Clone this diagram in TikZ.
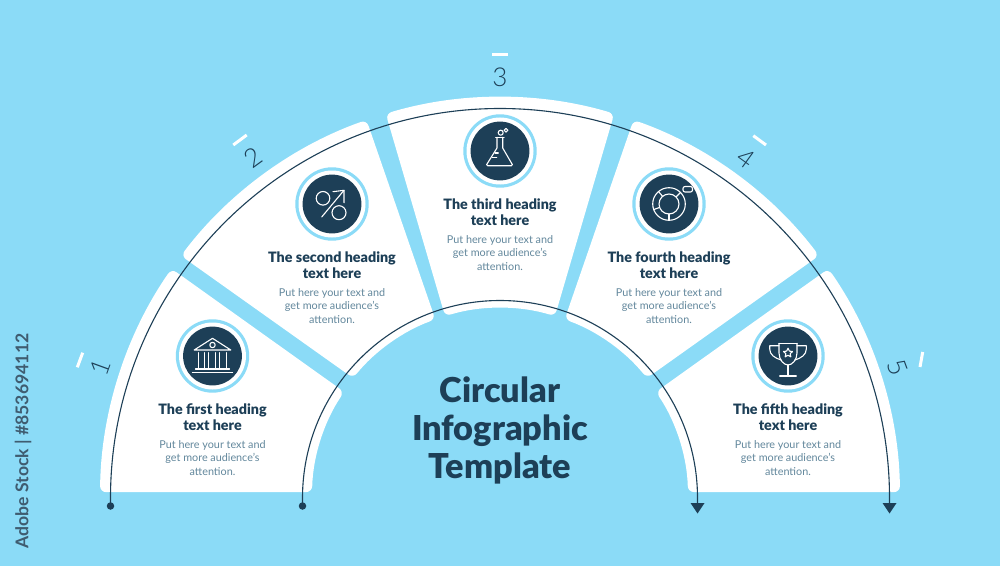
\documentclass[tikz,border=0pt]{standalone}
\usepackage{fontspec}
\usetikzlibrary{calc}
\setmainfont{Lato}
\newfontfamily\thinfont{Lato Light}
\newfontfamily\blackfont{Lato Black}
\definecolor{bgblue}{RGB}{139,219,247}
\definecolor{navy}{RGB}{29,63,87}
\definecolor{bodyc}{RGB}{98,135,156}
\tikzset{
  seg/.style={fill=white,rounded corners=6pt},
  flow/.style={draw=navy,line width=1.1pt},
  dotn/.style={circle,fill=navy,inner sep=0pt,minimum size=7.5pt},
  head/.style={font=\blackfont\fontsize{14.3}{16}\selectfont,text=navy,align=center,inner sep=0pt},
  bodyt/.style={font=\fontsize{10.8}{13.4}\selectfont,text=bodyc,align=center,inner sep=0pt},
  numb/.style={font=\thinfont\fontsize{26}{26}\selectfont,text=navy,inner sep=0pt},
  tick/.style={draw=white,line width=3pt},
  ico/.style={draw=white,line width=1.1pt,line join=round,line cap=round},
  ringo/.style={circle,fill=bgblue,minimum size=73.4pt,inner sep=0pt},
  ringw/.style={circle,fill=white,minimum size=67pt,inner sep=0pt},
  ringd/.style={circle,fill=navy,minimum size=58.8pt,inner sep=0pt}
}
\newcommand{\badge}[2]{%
  \node[ringo] (#1o) at (#2) {};
  \node[ringw] at (#2) {};
  \node[ringd] (#1) at (#2) {};}
\begin{document}
\begin{tikzpicture}[x=1pt,y=1pt]
\fill[bgblue] (0,0) rectangle (1000,566);
\useasboundingbox (0,0) rectangle (1000,566);
\coordinate (c) at (500,69);
% segments
\fill[seg] ($(c)+(179.3:400)$) arc[start angle=179.3,end angle=145.2,radius=400] -- ($(c)+(146:188)$) arc[start angle=146,end angle=178.5,radius=188] -- cycle;
\fill[seg] ($(c)+(142.9:400)$) arc[start angle=142.9,end angle=109.5,radius=400] -- ($(c)+(110:189)$) arc[start angle=110,end angle=141,radius=189] -- cycle;
\fill[seg] ($(c)+(106.6:400)$) arc[start angle=106.6,end angle=73.4,radius=400] -- ($(c)+(73.1:189)$) arc[start angle=73.1,end angle=106.9,radius=189] -- cycle;
\fill[seg] ($(c)+(70.5:400)$) arc[start angle=70.5,end angle=37.1,radius=400] -- ($(c)+(39:189)$) arc[start angle=39,end angle=70,radius=189] -- cycle;
\fill[seg] ($(c)+(34.8:400)$) arc[start angle=34.8,end angle=0.7,radius=400] -- ($(c)+(1.5:188)$) arc[start angle=1.5,end angle=34,radius=188] -- cycle;
% connectors
\node[dotn] (d1) at (110.5,60) {};
\node[dotn] (d2) at (302.5,60) {};
\coordinate (e1) at (889.5,62);
\coordinate (e2) at (697.5,62);
\draw[flow] (d1.center) -- (110.5,68) arc[start angle=180,end angle=0,radius=389.5] -- (e1);
\draw[flow] (d2.center) -- (302.5,68) arc[start angle=180,end angle=0,radius=197.5] -- (e2);
\fill[navy] (e1)++(-7,1) -- ++(14,0) -- ++(-7,-10.5) -- cycle;
\fill[navy] (e2)++(-7,1) -- ++(14,0) -- ++(-7,-10.5) -- cycle;
% ticks
\draw[tick] (82.7,213.3) -- (77.3,198.7);
\draw[tick] (246.7,431) -- (233.3,421);
\draw[tick] (492,511) -- (508,511);
\draw[tick] (753.3,430.3) -- (766,421);
\draw[tick] (922.7,214) -- (920,199);
% numbers
\node[numb,rotate=70] (n1) at (100,199) {1};
\node[numb,rotate=36] (n2) at (253,408) {2};
\node[numb] (n3) at (500,489) {3};
\node[numb,rotate=-36] (n4) at (746,408) {4};
\node[numb,rotate=-70] (n5) at (898,199) {5};
% badges
\badge{b1}{212.5,210}
\badge{b2}{332,362}
\badge{b3}{500,415}
\badge{b4}{669,362}
\badge{b5}{788,210}
% icon 1 bank
\begin{scope}[shift={(b1)},ico]
\draw (-18.3,6) -- (0,17.7) -- (18.3,6) -- cycle;
\draw (0,11) circle (2.7);
\foreach \a/\b in {-14.3/-7.7,-3.7/3,7.3/14}{\draw (\a,3.3) -- (\a,-13) (\b,3.3) -- (\b,-13);}
\draw (-17,-13) -- (17,-13);
\draw[line width=1.4pt] (-20,-16.3) -- (20,-16.3);
\end{scope}
% icon 2 percent
\begin{scope}[shift={(b2)},ico]
\draw (-9,5.7) circle (6.8);
\draw (7,-8.7) circle (7);
\draw (-10.3,-13) -- (12,13.7);
\draw (1,12.3) -- (12,13.7) -- (12,1.3);
\end{scope}
% icon 3 flask
\begin{scope}[shift={(b3)},ico]
\draw (-4.3,13.7) -- (4,13.7);
\draw (-3,13.7) -- (-3,3) -- (-13.3,-13.5) -- (-12.5,-14.7) -- (11.5,-14.7) -- (12.3,-13.5) -- (2.7,3) -- (2.7,13.7);
\draw (0.7,18.3) circle (2.5);
\draw (6,20.7) circle (1.9);
\draw (-5,-2) -- (-1.7,-2);
\draw (-7.7,-6.3) -- (-3.3,-6.3);
\end{scope}
% icon 4 donut
\begin{scope}[shift={(b4)},ico]
\draw (0,0) circle (16.3);
\draw (0,0) circle (10);
\draw (0,-10) -- (0,-16.3);
\draw (-160:10) -- (-160:16.3);
\draw (130:10) -- (130:16.3);
\draw (45:10) -- (45:16.3);
\draw[rounded corners=2pt] (14,12) rectangle (23.5,17.5);
\end{scope}
% icon 5 trophy
\begin{scope}[shift={(b5)},ico]
\draw (-9,12.7) -- (9,12.7);
\draw (-9,12.7) -- (-9,3) .. controls (-9,-4) and (-4,-9) .. (0,-9) .. controls (4,-9) and (9,-4) .. (9,3) -- (9,12.7);
\draw (-9,10.3) -- (-18.3,10.3) -- (-18.3,7) .. controls (-18.3,1) and (-13,-2) .. (-7,-4);
\draw (9,10.3) -- (18.3,10.3) -- (18.3,7) .. controls (18.3,1) and (13,-2) .. (7,-4);
\draw (0,-9) -- (0,-20);
\draw (-8.3,-20) -- (8.3,-20);
\draw (0,7.8) -- ++(1.4,-2.9) -- ++(3.1,-0.4) -- ++(-2.3,-2.2) -- ++(0.6,-3.1) -- ++(-2.8,1.5) -- ++(-2.8,-1.5) -- ++(0.6,3.1) -- ++(-2.3,2.2) -- ++(3.1,0.4) -- cycle;
\end{scope}
% text
\node[head] (h1) at (212.5,149) {The first heading\\text here};
\node[bodyt] (t1) at (212.5,108) {Put here your text and\\get more audience's\\attention.};
\node[head] (h2) at (332,301) {The second heading\\text here};
\node[bodyt] (t2) at (332,260) {Put here your text and\\get more audience's\\attention.};
\node[head] (h3) at (500,354) {The third heading\\text here};
\node[bodyt] (t3) at (500,313) {Put here your text and\\get more audience's\\attention.};
\node[head] (h4) at (669,301) {The fourth heading\\text here};
\node[bodyt] (t4) at (669,260) {Put here your text and\\get more audience's\\attention.};
\node[head] (h5) at (788,149) {The fifth heading\\text here};
\node[bodyt] (t5) at (788,108) {Put here your text and\\get more audience's\\attention.};
\node[font=\blackfont\fontsize{34.3}{38}\selectfont,text=navy,align=center,inner sep=0pt] (title) at (500,135.5) {Circular\\Infographic\\Template};
\node[font=\fontsize{17.6}{18}\selectfont\bfseries,text=navy!85,rotate=90,inner sep=0pt] (side) at (23,125) {Adobe Stock | \#853694112};
\end{tikzpicture}
\end{document}
